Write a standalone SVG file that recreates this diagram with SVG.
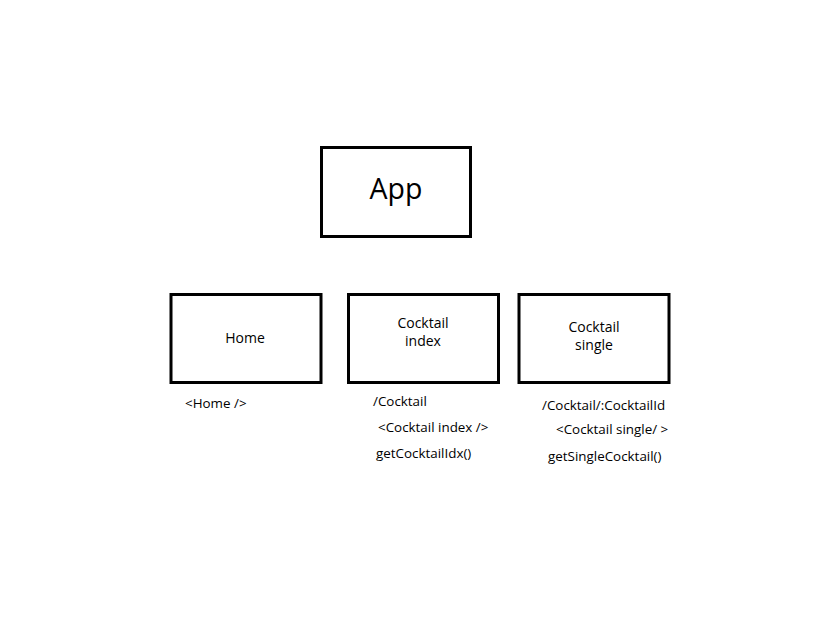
<svg xmlns="http://www.w3.org/2000/svg" width="825" height="638" viewBox="0 0 825 638">
<style>
.box{fill:#fff;stroke:#000;stroke-width:3}
text{font-family:"Open Sans","Noto Sans",sans-serif;fill:#000}
.c{text-anchor:middle;font-size:14px}
.l{font-size:13.4px}
</style>
<rect width="825" height="638" fill="#fff"/>
<g id="app"><rect class="box" x="321.5" y="147.5" width="149" height="89"/><text x="396" y="199" text-anchor="middle" font-size="28.5">App</text></g>
<g id="home"><rect class="box" x="171" y="294.5" width="150" height="88"/><text class="c" x="245" y="343">Home</text>
<text class="l" x="185" y="408">&lt;Home /&gt;</text></g>
<g id="cocktail-index"><rect class="box" x="348.5" y="294.5" width="150" height="88"/><text class="c" x="423" y="328">Cocktail</text><text class="c" x="423" y="346">index</text>
<text class="l" x="373" y="406">/Cocktail</text><text class="l" x="378" y="432">&lt;Cocktail index /&gt;</text><text class="l" x="376" y="458">getCocktailIdx()</text></g>
<g id="cocktail-single"><rect class="box" x="519" y="294.5" width="150" height="88"/><text class="c" x="594" y="332">Cocktail</text><text class="c" x="594" y="350">single</text>
<text class="l" x="542" y="410">/Cocktail/:CocktailId</text><text class="l" x="556" y="434">&lt;Cocktail single/ &gt;</text><text class="l" x="548" y="461">getSingleCocktail()</text></g>
<g id="connectors"></g>
</svg>
